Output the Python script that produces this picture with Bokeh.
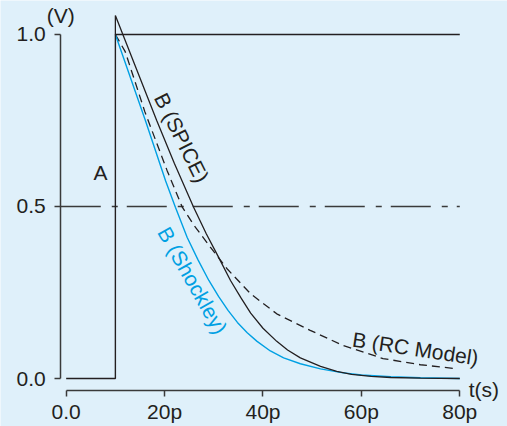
import math
from bokeh.plotting import figure
from bokeh.models import Range1d, Label, FixedTicker, ColumnDataSource
from bokeh.core.properties import value
from bokeh.embed import file_html
from bokeh.resources import INLINE

# ---------------- data ----------------
# input A: step at 10 ps
a_t = [0, 10, 10, 80]
a_v = [0, 0, 1.0, 1.0]

# output B, SPICE simulation
spice_t = [10, 10, 14, 18.4, 22, 25.9, 28.5, 30.7, 33.4, 35.5, 37.5, 40, 42.8, 45, 47.6,
           51.7, 55, 58, 62, 66, 72, 80]
spice_v = [1.0, 1.055, 0.91, 0.75, 0.625, 0.498, 0.42, 0.36, 0.285, 0.235, 0.19, 0.146,
           0.108, 0.083, 0.06, 0.035, 0.021, 0.012, 0.006, 0.003, 0.001, 0.0]

# output B, Shockley model
shock_t = [10, 16.1, 20.2, 22.2, 24.6, 26.8, 29.0, 31.0, 32.9, 34.8, 36.8, 38.8, 41.5,
           44.2, 47.6, 51.7, 56, 60, 66, 72, 80]
shock_v = [1.0, 0.75, 0.575, 0.498, 0.41, 0.345, 0.285, 0.238, 0.198, 0.163, 0.133, 0.108,
           0.08, 0.06, 0.043, 0.028, 0.017, 0.01, 0.005, 0.002, 0.0]

# output B, RC model
rc_t = [10, 12, 16, 20.5, 23.6, 26, 29.3, 32.7, 37.5, 42.8, 49.6, 56.3, 64.4, 72, 79]
rc_v = [1.0, 0.95, 0.775, 0.605, 0.498, 0.445, 0.382, 0.319, 0.246, 0.188, 0.14, 0.096,
        0.058, 0.04, 0.029]

threshold_v = 0.5
t_end = 80

x_ticks = [0, 20, 40, 60, 80]
x_tick_labels = ["0.0", "20p", "40p", "60p", "80p"]
y_ticks = [0.0, 0.5, 1.0]
y_tick_labels = ["0.0", "0.5", "1.0"]

label_texts = ["A", "B (SPICE)", "B (Shockley)", "B (RC Model)"]
label_t = [7.0, 23.5, 25.7, 71.0]
label_v = [0.60, 0.70, 0.285, 0.087]
label_angle_deg = [0, -63.5, -60.5, -8.5]

# ---------------- style ----------------
BG = "#dff0fa"
INK = "#231f20"
BLUE = "#00a0e3"
AXIS = "#3a3a3a"
FONT = "Liberation Sans"
FS = "21px"

label_colors = [INK, INK, BLUE, INK]

# frame covers the whole canvas; axes are drawn at fixed locations inside it
x_start, x_end = -13.35, 89.7
y_start, y_end = -0.1395, 1.0988
y_axis_at = -1.1      # where the vertical axis line sits (t units)
x_axis_at = -0.0349   # where the horizontal axis line sits (V units)

p = figure(width=507, height=426, output_backend="svg", toolbar_location=None,
           x_range=Range1d(x_start, x_end), y_range=Range1d(y_start, y_end),
           min_border_left=0, min_border_right=0, min_border_top=0, min_border_bottom=0)
p.background_fill_color = BG
p.border_fill_color = BG
p.outline_line_color = None
p.grid.visible = False

# axes
for ax in (p.xaxis[0], p.yaxis[0]):
    ax.axis_line_color = AXIS
    ax.axis_line_width = 1.5
    ax.major_tick_line_color = AXIS
    ax.major_tick_line_width = 1.5
    ax.major_tick_in = 0
    ax.major_tick_out = 6
    ax.minor_tick_line_color = None
    ax.major_label_text_font = FONT
    ax.major_label_text_font_size = FS
    ax.major_label_text_color = INK

p.xaxis.ticker = FixedTicker(ticks=x_ticks)
p.xaxis.major_label_overrides = {t: s for t, s in zip(x_ticks, x_tick_labels)}
p.xaxis.bounds = (x_ticks[0], x_ticks[-1])
p.xaxis.major_label_standoff = 3
p.xaxis.fixed_location = x_axis_at

p.yaxis.ticker = FixedTicker(ticks=y_ticks)
p.yaxis.major_label_overrides = {t: s for t, s in zip(y_ticks, y_tick_labels)}
p.yaxis.bounds = (y_ticks[0], y_ticks[-1])
p.yaxis.major_label_standoff = 9
p.yaxis.fixed_location = y_axis_at

# threshold dash-dot line
p.line([y_axis_at, t_end], [threshold_v, threshold_v], line_color=AXIS, line_width=1.4,
       line_dash="40 11 6 9")

# curves
p.line(rc_t, rc_v, line_color=INK, line_width=1.3, line_dash="8 5")
p.line(shock_t, shock_v, line_color=BLUE, line_width=1.4)
p.line(spice_t, spice_v, line_color=INK, line_width=1.3)
p.line(a_t, a_v, line_color=INK, line_width=1.4)

# curve labels
src = ColumnDataSource(dict(x=label_t, y=label_v, text=label_texts,
                            angle=[math.radians(a) for a in label_angle_deg],
                            color=label_colors))
p.text(x="x", y="y", text="text", angle="angle", text_color="color", source=src,
       text_font=value(FONT), text_font_size=FS, text_align="center",
       text_baseline="middle")

# axis unit labels
p.add_layout(Label(x=y_axis_at, y=y_ticks[-1], y_offset=19, text="(V)",
                   text_font=FONT, text_font_size=FS, text_color=INK,
                   text_align="center", text_baseline="middle"))
p.add_layout(Label(x=x_ticks[-1], y=x_axis_at, x_offset=9, y_offset=1, text="t(s)",
                   text_font=FONT, text_font_size=FS, text_color=INK,
                   text_align="left", text_baseline="middle"))

open("out.html", "w").write(file_html(p, INLINE))
